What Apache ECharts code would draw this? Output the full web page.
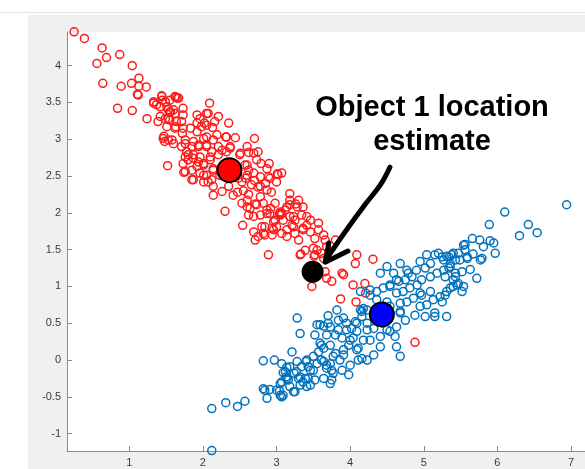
<!DOCTYPE html>
<html><head><meta charset="utf-8">
<script src="https://cdn.jsdelivr.net/npm/echarts@6/dist/echarts.min.js"></script>
<style>
html,body{margin:0;padding:0;background:#fff;overflow:hidden;}
#topline{position:absolute;left:0;top:12px;width:585px;height:1px;background:#e2e2e2;}
#bg{position:absolute;left:28px;top:15px;width:557px;height:454px;background:#f0f0f0;}
#c{position:absolute;left:0;top:0;width:585px;height:469px;}
</style>
</head><body>
<div id="topline"></div><div id="bg"></div><div id="c"></div>
<script>
// ---- data (data units) ----
const xTicks = [1, 2, 3, 4, 5, 6, 7];
const yTicks = [-1, -0.5, 0, 0.5, 1, 1.5, 2, 2.5, 3, 3.5, 4];

const redPoints = [
[0.25,4.46],[0.39,4.37],[0.63,4.24],[0.69,4.11],[0.87,4.15],[0.56,4.03],[1.04,4.00],[0.64,3.76],[0.89,3.72],[1.03,3.76],
[1.13,3.83],[1.13,3.72],[1.23,3.71],[1.11,3.61],[1.12,3.60],[0.84,3.42],[1.04,3.39],[1.24,3.28],[1.33,3.49],[1.44,3.59],
[1.42,3.44],[1.53,3.40],[1.63,3.57],[1.65,3.56],[1.42,3.31],[1.53,3.28],[1.62,3.35],[1.39,3.24],[1.37,3.47],[1.49,3.51],
[1.55,3.53],[1.67,3.56],[1.45,3.53],[1.51,3.44],[1.56,3.37],[1.60,3.40],[1.73,3.42],[1.73,3.33],[1.64,3.24],[1.71,3.24],
[1.63,3.17],[1.47,3.04],[1.48,2.97],[1.58,2.99],[1.51,3.17],[1.72,3.08],[1.76,2.99],[1.52,2.64],[1.76,2.76],[1.74,2.55],
[1.85,2.45],[1.92,3.33],[1.92,3.22],[1.98,3.17],[2.09,3.49],[2.07,3.35],[2.21,3.31],[2.35,3.22],[2.02,3.22],[2.13,3.16],
[2.31,3.03],[2.44,3.02],[2.70,3.01],[2.60,2.90],[2.62,2.82],[2.51,2.81],[2.69,2.81],[2.73,2.72],[2.79,2.67],[2.90,2.67],
[2.87,2.60],[3.01,2.53],[3.02,2.52],[3.00,2.42],[2.89,2.49],[2.78,2.49],[2.69,2.54],[2.62,2.58],[2.57,2.65],[2.53,2.42],
[2.66,2.38],[2.75,2.35],[2.78,2.36],[2.87,2.31],[3.18,2.26],[3.18,2.17],[3.26,2.12],[3.14,2.08],[3.05,2.01],[3.04,1.99],
[2.92,2.06],[2.82,2.13],[2.71,2.12],[2.60,2.17],[2.53,2.13],[2.64,2.06],[2.69,1.95],[2.87,1.99],[2.96,1.88],[3.09,1.90],
[3.23,1.95],[3.23,1.81],[3.14,1.77],[2.96,1.77],[2.82,1.72],[2.54,1.83],[2.30,2.02],[2.14,2.24],[2.41,2.24],[2.35,2.36],
[2.48,2.47],[2.41,2.54],[2.23,2.51],[2.14,2.58],[2.10,2.72],[2.21,2.79],[2.32,2.83],[2.37,2.90],[2.21,2.90],[2.05,2.90],
[1.94,2.90],[1.87,2.79],[1.96,2.76],[2.01,2.67],[1.92,2.63],[1.85,2.58],[1.96,2.54],[2.05,2.51],[2.01,2.42],[2.14,2.36],
[2.26,2.29],[1.80,2.72],[1.71,2.90],[1.87,2.97],[2.01,3.01],[2.14,2.99],[1.78,2.83],[2.07,2.42],[2.75,2.83],[2.91,2.47],
[3.28,2.08],[3.18,1.95],[3.12,2.04],[3.05,1.97],[2.98,1.90],[2.91,1.99],[2.84,1.81],[2.94,1.79],[2.84,1.70],[2.75,1.68],
[2.69,1.74],[2.80,1.81],[2.71,1.63],[2.94,1.70],[3.00,1.81],[3.07,1.72],[3.14,1.68],[3.21,1.83],[3.25,1.72],[3.30,1.63],
[3.36,1.79],[3.41,1.83],[3.46,1.74],[3.57,1.86],[3.57,1.77],[3.52,1.65],[3.64,1.70],[3.66,1.63],[3.68,1.54],[3.80,1.63],
[2.89,1.43],[3.32,1.43],[3.39,1.49],[3.50,1.52],[3.52,1.43],[3.61,1.45],[3.64,1.38],[3.66,1.20],[3.68,1.11],[3.75,1.07],
[3.48,1.00],[3.91,1.16],[4.04,1.02],[4.07,1.31],[3.33,1.44],[3.51,1.41],[3.55,1.49],[3.89,1.18],[4.09,1.43],[4.20,1.04],
[4.31,1.37],[4.21,0.91],[3.87,0.83],[4.08,0.79],[4.88,0.24],[3.07,2.54],[3.30,2.17],[3.36,2.08],[3.25,1.90],[3.46,1.90],
[3.36,1.77],[2.60,2.08],[2.73,2.11],[2.87,2.04],[2.98,2.13],[3.07,1.99],[3.18,2.11],[3.34,1.97],[3.41,1.95],[2.62,1.97],
[2.78,1.97],[1.33,3.51],[1.44,3.58],[1.62,3.58],[1.49,3.28],[1.55,3.37],[1.55,3.26],[1.96,3.28],[2.05,3.35],[2.16,3.24],
[2.05,3.19],[1.62,3.15],[1.73,3.15],[1.83,3.15],[1.92,3.10],[2.05,3.03],[2.19,3.06],[2.32,3.03],[1.46,3.01],[1.53,2.99],
[1.60,2.94],[1.76,2.94],[1.85,2.90],[1.94,2.92],[2.05,2.92],[2.12,2.83],[2.26,2.85],[2.37,2.88],[1.80,2.79],[1.87,2.74],
[1.94,2.69],[2.01,2.65],[2.10,2.76],[2.14,2.60],[1.73,2.67],[1.76,2.56],[1.87,2.45],[2.01,2.51],[2.12,2.45],[2.50,2.79],
[2.60,2.65],[2.60,2.51],[2.55,2.30],[2.62,2.25],[2.70,2.44],[2.78,2.22],[2.85,2.40],[2.93,2.28],[2.58,2.47],[2.47,2.28]
];

const bluePoints = [
[2.12,-0.66],[2.31,-0.58],[2.47,-0.63],[2.57,-0.56],[2.12,-1.23],[2.82,-0.01],[2.97,0.00],[3.07,-0.05],[3.09,-0.17],[3.14,-0.10],
[3.21,0.11],[3.28,-0.02],[3.32,0.36],[3.52,0.34],[3.24,-0.18],[3.27,-0.16],[3.34,-0.09],[3.32,-0.23],[3.40,-0.02],[3.46,-0.14],
[3.36,-0.30],[3.41,-0.36],[3.25,-0.43],[3.16,-0.27],[3.13,-0.23],[3.05,-0.32],[3.00,-0.41],[3.04,-0.42],[3.09,-0.48],[2.91,-0.40],
[2.87,-0.52],[2.84,-0.41],[3.18,-0.36],[3.28,0.57],[2.82,-0.39],[3.07,-0.50],[3.12,-0.16],[3.14,-0.25],[3.18,-0.09],[3.41,0.00],
[3.39,-0.25],[3.30,-0.25],[3.32,-0.34],[3.50,0.05],[3.59,0.48],[3.64,0.46],[3.70,0.60],[3.73,0.45],[3.82,0.68],[3.84,0.54],
[3.80,0.34],[3.68,0.34],[3.61,0.20],[3.57,0.11],[3.61,0.00],[3.68,-0.07],[3.75,-0.14],[3.77,0.05],[3.86,0.00],[3.91,0.14],
[3.98,0.20],[4.04,0.30],[4.02,0.43],[3.95,0.41],[3.89,0.30],[3.95,0.50],[4.09,0.50],[4.16,0.59],[4.14,0.68],[4.23,0.68],
[4.18,0.27],[4.09,0.14],[4.11,0.00],[4.00,-0.07],[3.98,-0.20],[3.89,-0.14],[3.64,-0.25],[3.75,-0.27],[3.52,-0.27],[3.50,-0.14],
[3.55,0.48],[3.70,0.50],[3.59,0.23],[3.64,0.16],[3.73,0.20],[3.84,0.41],[3.91,0.57],[4.16,0.66],[4.23,0.50],[4.32,0.43],
[4.41,0.32],[4.54,0.39],[4.63,0.18],[4.68,0.05],[4.61,0.32],[4.27,0.27],[4.11,0.16],[4.00,0.27],[3.91,0.07],[3.77,-0.18],
[3.68,-0.11],[3.64,-0.02],[3.43,-0.25],[3.07,-0.30],[3.05,-0.48],[3.23,-0.43],[3.43,-0.09],[3.55,-0.05],[3.73,-0.05],[3.80,0.09],
[3.73,-0.32],[4.16,0.02],[4.23,0.00],[4.32,0.07],[4.41,0.18],[3.46,-0.34],[4.59,1.18],[4.79,1.18],[4.95,1.34],[5.15,1.43],
[5.20,1.45],[5.25,1.40],[5.34,1.40],[5.36,1.31],[5.09,1.31],[5.02,1.25],[4.90,1.22],[4.84,1.13],[4.75,1.09],[4.66,1.07],
[4.54,1.02],[4.45,0.98],[4.36,0.93],[4.27,0.88],[4.36,0.82],[4.50,0.79],[4.63,0.91],[4.72,0.93],[4.81,0.98],[4.91,1.02],
[4.97,1.09],[5.09,1.13],[5.18,1.18],[5.27,1.22],[5.36,1.27],[5.43,1.13],[5.45,1.02],[5.36,0.98],[5.29,0.88],[5.22,0.86],
[5.13,0.82],[5.04,0.75],[4.95,0.73],[4.88,0.61],[5.02,0.59],[5.15,0.59],[5.31,0.59],[5.25,0.79],[5.09,0.93],[4.97,0.88],
[4.86,0.84],[4.77,0.79],[4.68,0.77],[4.68,0.66],[4.75,0.54],[4.63,0.45],[4.50,0.41],[4.45,0.50],[4.18,0.70],[4.07,0.52],
[4.09,0.39],[4.23,0.41],[6.94,2.11],[6.10,2.01],[5.89,1.84],[6.42,1.84],[6.30,1.69],[6.54,1.73],[5.66,1.65],[5.76,1.63],
[5.90,1.62],[5.95,1.59],[5.56,1.57],[5.81,1.54],[5.97,1.45],[5.56,1.50],[5.47,1.45],[5.67,1.44],[5.38,1.43],[5.31,1.41],
[5.27,1.36],[5.59,1.38],[5.49,1.36],[5.43,1.36],[5.77,1.36],[5.79,1.38],[5.63,1.23],[5.72,1.11],[5.34,1.25],[5.43,1.18],
[5.52,1.20],[5.29,1.13],[5.40,1.09],[5.47,1.04],[5.54,1.00],[5.52,0.93],[5.15,0.64],[5.31,0.93],[5.40,1.00],[4.14,0.93],
[4.27,0.95],[4.54,1.00],[4.63,1.09],[4.41,1.18],[4.50,1.27],[4.68,1.31],[4.77,1.22],[5.04,1.43],[5.40,1.45],[5.54,1.56],
[5.59,1.40],[4.54,0.73],[4.95,0.91],[4.68,0.64],[4.54,0.64]
];

const redCentroid = [[2.36, 2.58]];
const blueCentroid = [[4.43, 0.62]];
const locationEstimate = [[3.49, 1.20]];

const annotationLines = ['Object 1 location', 'estimate'];
const arrowShaft = [[4.54,2.62],[4.41,2.38],[4.20,2.11],[3.93,1.74],[3.69,1.39]];
const arrowHead = [[3.71,1.59],[3.66,1.33],[3.97,1.48]];

// ---- chart ----
const chart = echarts.init(document.getElementById('c'), null, {renderer: 'canvas'});

function ring(data, color) {
  return {
    type: 'scatter', data: data, symbol: 'circle', symbolSize: 8, clip: false,
    itemStyle: {color: 'rgba(0,0,0,0)', borderColor: color, borderWidth: 1.5, opacity: 1},
    emphasis: {disabled: true}, silent: true
  };
}
function dot(data, fill, size) {
  return {
    type: 'scatter', data: data, symbol: 'circle', symbolSize: size, clip: false, z: 5,
    itemStyle: {color: fill, borderColor: '#000', borderWidth: 2, opacity: 1},
    emphasis: {disabled: true}, silent: true
  };
}

const axisCommon = {
  type: 'value',
  axisLine: {show: true, onZero: false, lineStyle: {color: '#8c8c8c', width: 1}},
  splitLine: {show: false},
  axisPointer: {show: false}
};

chart.setOption({
  animation: false,
  backgroundColor: 'transparent',
  grid: {left: 67, right: 0, top: 32, bottom: 18, show: true, backgroundColor: '#ffffff', borderWidth: 0},
  xAxis: Object.assign({}, axisCommon, {
    min: 0.1535, max: 7.19,
    axisTick: {show: true, inside: true, length: 5, customValues: xTicks, lineStyle: {color: '#8c8c8c'}},
    axisLabel: {customValues: xTicks, color: '#3a3a3a', fontSize: 11, margin: 6, fontFamily: 'Liberation Sans, Arial, sans-serif'}
  }),
  yAxis: Object.assign({}, axisCommon, {
    min: -1.236, max: 4.457,
    axisTick: {show: true, inside: true, length: 5, customValues: yTicks, lineStyle: {color: '#8c8c8c'}},
    axisLabel: {customValues: yTicks, color: '#3a3a3a', fontSize: 11, margin: 6, fontFamily: 'Liberation Sans, Arial, sans-serif'}
  }),
  series: [
    ring(redPoints, '#ff1a1a'),
    ring(bluePoints, '#0072bd'),
    dot(redCentroid, '#ff0000', 24),
    dot(blueCentroid, '#0000ff', 24),
    dot(locationEstimate, '#000000', 20)
  ]
});

const toPx = p => chart.convertToPixel({gridIndex: 0}, p);
const shaftPx = arrowShaft.map(toPx);
const headPx = arrowHead.map(toPx);
const font = 'bold 29px "Liberation Sans", Arial, sans-serif';

chart.setOption({
  graphic: [
    {type: 'polyline', shape: {points: shaftPx, smooth: 0.4}, style: {stroke: '#000', lineWidth: 5, fill: null, lineCap: 'round', lineJoin: 'round'}, z: 100, silent: true},
    {type: 'polyline', shape: {points: headPx}, style: {stroke: '#000', lineWidth: 5, fill: null, lineCap: 'round', lineJoin: 'round'}, z: 100, silent: true},
    {type: 'text', x: 432, y: 108, z: 100, silent: true,
      style: {text: annotationLines[0], font: font, fill: '#000', align: 'center', verticalAlign: 'middle', textAlign: 'center', textVerticalAlign: 'middle'}},
    {type: 'text', x: 432, y: 142, z: 100, silent: true,
      style: {text: annotationLines[1], font: font, fill: '#000', align: 'center', verticalAlign: 'middle', textAlign: 'center', textVerticalAlign: 'middle'}}
  ]
});
</script>
</body></html>
